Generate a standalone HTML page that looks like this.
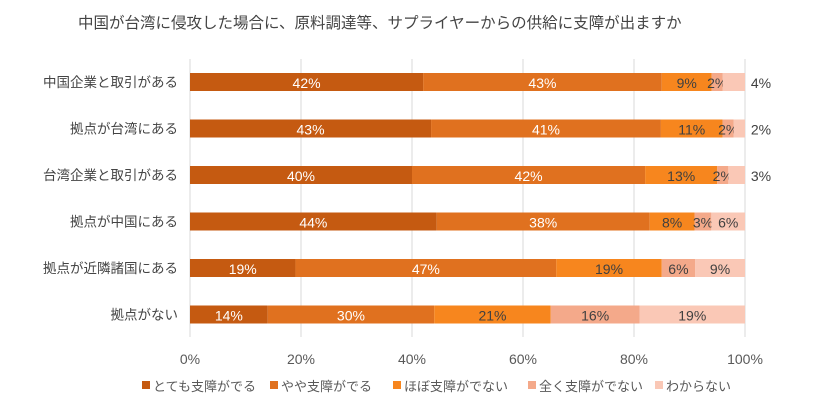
<!DOCTYPE html>
<html><head><meta charset="utf-8"><style>
body{margin:0;background:#fff;}
svg{display:block;font-family:"Liberation Sans","Noto Sans CJK JP",sans-serif;}
</style></head><body>
<svg id="chart" width="840" height="404">
<text x="78" y="28" font-size="15.5" fill="#444">中国が台湾に侵攻した場合に、原料調達等、サプライヤーからの供給に支障が出ますか</text>
<g id="grid"></g><g id="bars"></g><g id="ylabels"></g><g id="xticks"></g><g id="legend"></g>
</svg>
<script>
const categories=["中国企業と取引がある","拠点が台湾にある","台湾企業と取引がある","拠点が中国にある","拠点が近隣諸国にある","拠点がない"];
const seriesNames=["とても支障がでる","やや支障がでる","ほぼ支障がでない","全く支障がでない","わからない"];
const s1=[42,43,40,44,19,14];
const s2=[43,41,42,38,47,30];
const s3=[9,11,13,8,19,21];
const s4=[2,2,2,3,6,16];
const s5=[4,2,3,6,9,19];
const ticks=[0,20,40,60,80,100];
const series=[s1,s2,s3,s4,s5];
const colors=["#C55A11","#E0711F","#F7861E","#F4A98A","#FAC8B6"];
const textColors=["#fff","#fff","#404040","#404040","#404040"];
const NS="http://www.w3.org/2000/svg";
const x0=190,x1=745,top0=59,rowH=46.5,barH=18;
const xs=v=>x0+(x1-x0)*v/100;
const yc=i=>82+i*rowH;
function mk(tag,attrs,parent){const e=document.createElementNS(NS,tag);for(const k in attrs)e.setAttribute(k,attrs[k]);document.getElementById(parent).appendChild(e);return e;}
ticks.forEach(t=>{
 const l=mk("line",{x1:xs(t),x2:xs(t),y1:top0,y2:337,stroke:"#d9d9d9","stroke-width":1},"grid");
 
 
 const tx=mk("text",{x:xs(t),y:364,"font-size":14,fill:"#595959","text-anchor":"middle"},"xticks");
 tx.textContent=t+"%";
 
 
});
categories.forEach((c,i)=>{
 const lab=mk("text",{x:178,y:yc(i)+5,"font-size":13.5,fill:"#444","text-anchor":"end"},"ylabels");
 lab.textContent=c;
 
 
 let tot=0;series.forEach(s=>tot+=s[i]);
 let acc=0;
 series.forEach((s,j)=>{
  const v=s[i]/tot*100;
  const r=mk("rect",{x:xs(acc),y:yc(i)-barH/2,width:xs(acc+v)-xs(acc),height:barH,fill:colors[j]},"bars");
  
  
  let cx=xs(acc+v/2),col=textColors[j];
  if(j===4&&v<5){cx=xs(100)+16;}
  const t=mk("text",{x:cx,y:yc(i)+6,"font-size":14,fill:col,"text-anchor":"middle"},"bars");
  t.textContent=s[i]+"%";
  
  
  acc+=v;
 });
});
const lx=[142,270,393,528,655];
seriesNames.forEach((n,j)=>{
 const r=mk("rect",{x:lx[j],y:381,width:8,height:8,fill:colors[j]},"legend");
 
 
 const t=mk("text",{x:lx[j]+11,y:391,"font-size":13,fill:"#595959"},"legend");
 t.textContent=n;
 
 
});
</script>
</body></html>
